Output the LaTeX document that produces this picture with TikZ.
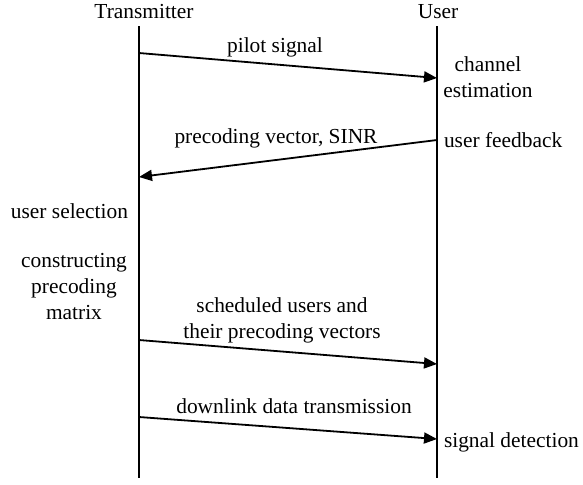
\documentclass[tikz,border=0pt]{standalone}
\usepackage{fontspec}
\setmainfont{Liberation Serif}
\usetikzlibrary{arrows.meta}
\tikzset{
  lifeline/.style={line width=0.9pt},
  msg/.style={
    line width=0.9pt,
    -{Triangle[length=6.5pt,width=5.5pt]}
  },
  txt/.style={
    inner sep=0pt,
    outer sep=0pt,
    align=center,
    font=\fontsize{10.7}{13}\selectfont
  }
}

\begin{document}
\begin{tikzpicture}[x=0.5pt,y=-0.5pt]
    \useasboundingbox (0,0) rectangle (583,484);
    % lifelines
    \node[txt,anchor=base] (tx) at (144,18) {Transmitter};
    \node[txt,anchor=base] (usr) at (438,18) {User};
    \coordinate (tx top) at (139,26);
    \coordinate (tx bot) at (139,478);
    \coordinate (usr top) at (437,26);
    \coordinate (usr bot) at (437,478);
    \draw[lifeline] (tx top) -- (tx bot);
    \draw[lifeline] (usr top) -- (usr bot);
    % message end points
    \coordinate (p1) at (139,53);
    \coordinate (q1) at (437,78);
    \coordinate (p2) at (437,140);
    \coordinate (q2) at (139,177);
    \coordinate (p3) at (139,340);
    \coordinate (q3) at (437,364);
    \coordinate (p4) at (139,417);
    \coordinate (q4) at (437,439);
    \draw[msg] (p1) -- (q1);
    \draw[msg] (p2) -- (q2);
    \draw[msg] (p3) -- (q3);
    \draw[msg] (p4) -- (q4);
    % message labels (base = last line)
    \node[txt,anchor=base] (pilot) at (275,52) {pilot signal};
    \node[txt,anchor=base] (fb) at (276,143) {precoding vector, SINR};
    \node[txt,anchor=base] (sched) at (282,338) {scheduled users and\\their precoding vectors};
    \node[txt,anchor=base] (dl) at (294,413) {downlink data transmission};
    % actions
    \node[txt,anchor=base] (chest) at (488,97) {channel\\estimation};
    \node[txt,anchor=base west] (ufb) at (444,147) {user feedback};
    \node[txt,anchor=base east] (usel) at (128,218) {user selection};
    \node[txt,anchor=base] (cpm) at (74,319) {constructing\\precoding\\matrix};
    \node[txt,anchor=base west] (sdet) at (444,447) {signal detection};
\end{tikzpicture}
\end{document}
